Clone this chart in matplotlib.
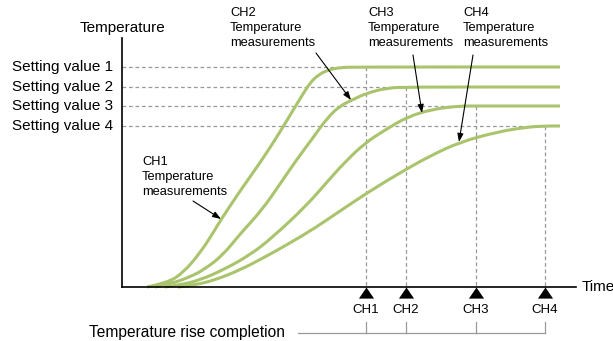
import matplotlib.pyplot as plt
from matplotlib.path import Path
from matplotlib.patches import PathPatch

plt.rcParams['font.family'] = ['Liberation Sans', 'DejaVu Sans']

# Setting values (temperature) and completion times per channel
setting_labels = ["Setting value 1", "Setting value 2", "Setting value 3", "Setting value 4"]
setting_values = [220, 200, 181, 161]
channels = ["CH1", "CH2", "CH3", "CH4"]
completion_times = [244, 284, 354, 423]

# Temperature curves (time, temperature)
ch1_t = [25, 45, 61, 78, 91, 100, 118, 140, 158, 173, 181, 188, 196, 206, 218, 233, 438]
ch1_v = [0, 4, 14, 34, 54, 69, 96, 127, 155, 180, 193, 204, 212, 217, 219.5, 220, 220]
ch2_t = [33, 48, 68, 83, 101, 118, 140, 158, 173, 190, 206, 218, 230, 245, 265, 285, 438]
ch2_v = [0, 3, 10, 18, 32, 53, 77, 103, 125, 148, 170, 181, 187, 194, 199, 200, 200]
ch3_t = [43, 58, 78, 101, 128, 151, 185, 205, 223, 243, 263, 285, 311, 338, 355, 438]
ch3_v = [0, 2, 7, 17, 32, 50, 82, 105, 125, 144, 157, 170, 178, 181, 181, 181]
ch4_t = [56, 73, 93, 118, 143, 168, 193, 218, 248, 281, 308, 338, 375, 405, 425, 438]
ch4_v = [0, 2, 7, 17, 30, 44, 59, 76, 96, 116, 131, 145, 155, 160, 161, 161]

green = '#a9c46c'
grey = '#999999'


def smooth_path(t, v):
    # quadratic bezier through the midpoints, data points act as control points
    pts = list(zip(t, v))
    verts = [pts[0]]
    codes = [Path.MOVETO]
    for i in range(1, len(pts) - 1):
        mid = ((pts[i][0] + pts[i + 1][0]) / 2, (pts[i][1] + pts[i + 1][1]) / 2)
        verts += [pts[i], mid]
        codes += [Path.CURVE3, Path.CURVE3]
    verts.append(pts[-1])
    codes.append(Path.LINETO)
    return Path(verts, codes)


fig = plt.figure(figsize=(6.13, 3.41), dpi=100)
ax = fig.add_axes([0, 0, 1, 1])
ax.set_xlim(-122, 491)
ax.set_ylim(-54, 287)
ax.axis('off')

# dashed guides
for sv, ct in zip(setting_values, completion_times):
    ax.plot([0, ct], [sv, sv], color=grey, lw=0.9, dashes=(3, 2.2), zorder=1)
    ax.plot([ct, ct], [sv, 0], color=grey, lw=0.9, dashes=(3, 2.2), zorder=1)

# curves
for t, v in [(ch1_t, ch1_v), (ch2_t, ch2_v), (ch3_t, ch3_v), (ch4_t, ch4_v)]:
    ax.add_patch(PathPatch(smooth_path(t, v), facecolor='none', edgecolor=green,
                           lw=2.2, capstyle='butt', joinstyle='round', zorder=2))

# axes
ax.plot([0, 0], [0, 249], color='black', lw=1.2, zorder=3)
ax.plot([0, 454], [0, 0], color='black', lw=1.2, zorder=3)

ax.text(0, 259, "Temperature", ha='center', va='center', fontsize=11)
ax.text(460, 0, "Time", ha='left', va='center', fontsize=11)
for lab, sv in zip(setting_labels, setting_values):
    ax.text(-9, sv, lab, ha='right', va='center', fontsize=11)

# completion markers
tri = [(0, 0), (-1, -1.47), (1, -1.47)]
ax.plot(completion_times, [0] * 4, linestyle='none', marker=tri, ms=16,
        color='black', mew=0, zorder=4, clip_on=False)
for ch, ct in zip(channels, completion_times):
    ax.text(ct, -23, ch, ha='center', va='center', fontsize=9.5)
    ax.plot([ct, ct], [-35, -46], color=grey, lw=0.9)
ax.plot([176, completion_times[-1]], [-46, -46], color=grey, lw=0.9)
ax.text(-33, -45, "Temperature rise completion", ha='left', va='center', fontsize=11.2)

# annotations
arrow = dict(arrowstyle='-|>,head_length=0.5,head_width=0.18', color='black', lw=0.8,
             shrinkA=0, shrinkB=0)
ax.annotate("", xy=(99, 68), xytext=(71, 86), arrowprops=arrow)
ax.annotate("", xy=(229, 187), xytext=(194, 234), arrowprops=arrow)
ax.annotate("", xy=(300, 174), xytext=(291, 232), arrowprops=arrow)
ax.annotate("", xy=(337, 145), xytext=(351, 232), arrowprops=arrow)

note = dict(ha='left', va='center', fontsize=9.3, linespacing=1.3)
ax.text(20, 110, "CH1\nTemperature\nmeasurements", **note)
ax.text(108, 259, "CH2\nTemperature\nmeasurements", **note)
ax.text(246, 259, "CH3\nTemperature\nmeasurements", **note)
ax.text(341, 259, "CH4\nTemperature\nmeasurements", **note)

fig.savefig("out.png", dpi=100)
